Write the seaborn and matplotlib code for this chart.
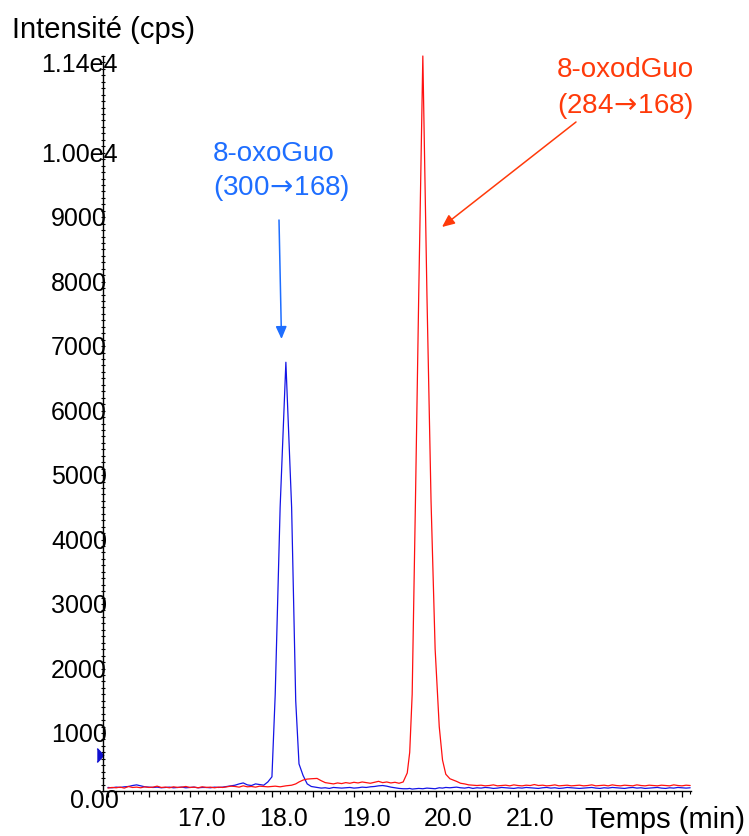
import numpy as np
import pandas as pd
import matplotlib
matplotlib.use("Agg")
import matplotlib.pyplot as plt
import matplotlib.transforms as mtransforms
from matplotlib.ticker import MultipleLocator
import seaborn as sns

# ---------------- data ----------------
time = [16.00, 16.05, 16.10, 16.15, 16.20, 16.25, 16.30, 16.35, 16.40, 16.45,
        16.50, 16.55, 16.60, 16.65, 16.70, 16.75, 16.80, 16.85, 16.90, 16.95,
        17.00, 17.05, 17.10, 17.15, 17.20, 17.25, 17.30, 17.35, 17.40, 17.45,
        17.50, 17.55, 17.60, 17.65, 17.70, 17.75, 17.80, 17.85, 17.90, 17.95,
        18.00, 18.04, 18.10, 18.17, 18.24, 18.29, 18.33, 18.38, 18.43, 18.48,
        18.55, 18.60, 18.65, 18.70, 18.75, 18.80, 18.85, 18.90, 18.95, 19.00,
        19.05, 19.10, 19.15, 19.20, 19.25, 19.30, 19.35, 19.40, 19.45, 19.50,
        19.55, 19.60,
        19.65, 19.68, 19.71, 19.75, 19.79, 19.84, 19.89, 19.94, 19.99, 20.04,
        20.08, 20.12, 20.17,
        20.25, 20.30, 20.35, 20.40, 20.45, 20.50, 20.55, 20.60, 20.65, 20.70,
        20.75, 20.80, 20.85, 20.90, 20.95, 21.00, 21.05, 21.10, 21.15, 21.20,
        21.25, 21.30, 21.35, 21.40, 21.45, 21.50, 21.55, 21.60, 21.65, 21.70,
        21.75, 21.80, 21.85, 21.90, 21.95, 22.00, 22.05, 22.10, 22.15, 22.20,
        22.25, 22.30, 22.35, 22.40, 22.45, 22.50, 22.55, 22.60, 22.65, 22.70,
        22.75, 22.80, 22.85, 22.90, 22.95, 23.00, 23.05, 23.10]

# 8-oxoGuo (300->168), blue trace, cps
oxoguo = [55, 50, 60, 55, 65, 70, 85, 95, 80, 65,
          60, 55, 60, 50, 55, 60, 50, 55, 60, 50,
          55, 60, 50, 55, 55, 50, 60, 55, 60, 70,
          80, 90, 110, 125, 95, 85, 110, 100, 90, 140,
          220, 1500, 4400, 6650, 4400, 1400, 420, 240, 110, 70,
          55, 45, 50, 40, 55, 50, 45, 50, 55, 45,
          50, 60, 55, 65, 70, 80, 85, 75, 60, 50,
          40, 35,
          35, 40, 30, 35, 40, 35, 45, 40, 35, 50,
          45, 55, 50,
          60, 50, 45, 55, 40, 50, 45, 55, 50, 40,
          45, 55, 50, 45, 40, 50, 45, 55, 50, 45,
          40, 50, 55, 45, 50, 40, 45, 55, 50, 45,
          40, 45, 50, 55, 45, 40, 50, 45, 55, 50,
          45, 40, 50, 55, 45, 50, 40, 45, 50, 55,
          45, 40, 50, 45, 55, 50, 45, 50]

# 8-oxodGuo (284->168), red trace, cps
oxodguo = [45, 55, 50, 60, 45, 70, 55, 60, 50, 65,
           55, 60, 75, 55, 60, 50, 65, 55, 60, 70,
           55, 60, 50, 65, 55, 60, 50, 60, 55, 65,
           75, 70, 60, 80, 65, 70, 60, 75, 70, 65,
           70, 75, 65, 80, 90, 110, 140, 170, 185, 190,
           195, 160, 130, 120, 110, 125, 115, 130, 120, 135,
           125, 140, 130, 120, 135, 150, 130, 140, 125, 135,
           120, 140,
           280, 600, 1500, 4500, 7700, 11400, 7700, 4500, 2200, 1000,
           480, 260, 190,
           150, 120, 110, 95, 90, 85, 90, 80, 85, 95,
           80, 85, 90, 80, 95, 85, 80, 90, 85, 100,
           85, 90, 80, 85, 95, 80, 85, 90, 80, 85,
           90, 80, 85, 95, 80, 85, 90, 80, 95, 85,
           80, 90, 85, 80, 95, 85, 80, 90, 85, 80,
           90, 85, 80, 95, 85, 80, 90, 85]

x_major = [16.0, 16.5, 17.0, 17.5, 18.0, 18.5, 19.0, 19.5, 20.0, 20.5,
           21.0, 21.5, 22.0, 22.5, 23.0]
x_labels = ['', '', '17.0', '', '18.0', '', '19.0', '', '20.0', '',
            '21.0', '', '', '', '']
y_major = [0, 1000, 2000, 3000, 4000, 5000, 6000, 7000, 8000, 9000, 10000, 11400]
y_labels = ['0.00', '1000', '2000', '3000', '4000', '5000', '6000', '7000',
            '8000', '9000', '1.00e4', '1.14e4']

marker_level = 560  # small blue level marker on the y axis

label_blue = ["8-oxoGuo", "(300$\\!\\rightarrow\\!$168)"]
label_red = ["8-oxodGuo", "(284$\\!\\rightarrow\\!$168)"]

# ---------------- style ----------------
sns.set_theme(style="white")
plt.rcParams['font.family'] = ['Liberation Sans', 'DejaVu Sans']
plt.rcParams['mathtext.fontset'] = 'dejavusans'

W, H = 749, 836
fig = plt.figure(figsize=(W / 100, H / 100), dpi=100)
ax = fig.add_axes([103 / W, (H - 791) / H, (691 - 103) / W, (791 - 56) / H])

df = pd.DataFrame({"time": time, "oxoguo": oxoguo, "oxodguo": oxodguo})
sns.lineplot(data=df, x="time", y="oxoguo", ax=ax, color="#1414e6", lw=0.9,
             estimator=None, sort=False, clip_on=False)
sns.lineplot(data=df, x="time", y="oxodguo", ax=ax, color="#ff1010", lw=0.9,
             estimator=None, sort=False, clip_on=False)

ax.set_xlim(15.94, 23.11)
ax.set_ylim(0, 11400)
ax.set_xlabel("")
ax.set_ylabel("")

for s in ["top", "right"]:
    ax.spines[s].set_visible(False)
for s in ["left", "bottom"]:
    ax.spines[s].set_color("black")
    ax.spines[s].set_linewidth(1.0)

# x ticks
ax.set_xticks(x_major, x_labels)
ax.xaxis.set_minor_locator(MultipleLocator(0.1))
ax.tick_params(axis="x", which="major", direction="out", length=4.6, width=0.9,
               pad=7.0, labelsize=18, colors="black")
ax.tick_params(axis="x", which="minor", direction="out", length=2.3, width=0.8,
               colors="black")
ax.tick_params(axis="x", which="both", bottom=True)

# y ticks
ax.set_yticks(y_major, y_labels)
ax.yaxis.set_minor_locator(MultipleLocator(100))
ax.tick_params(axis="y", which="major", direction="inout", length=2.6, width=0.8,
               pad=16.0, labelsize=18, colors="black")
ax.tick_params(axis="y", which="minor", direction="inout", length=2.6, width=0.8,
               colors="black")
ax.tick_params(axis="y", which="both", left=True)

# shift tick labels like in the original rendering
dx_off = mtransforms.ScaledTranslation(12 / 100, 0, fig.dpi_scale_trans)
for t in ax.xaxis.get_major_ticks():
    t.label1.set_transform(t.label1.get_transform() + dx_off)
for i, t in enumerate(ax.yaxis.get_major_ticks()):
    t.label1.set_horizontalalignment("center")
    if i == 0:
        off = mtransforms.ScaledTranslation(15 / 100, -8 / 100, fig.dpi_scale_trans)
    else:
        off = mtransforms.ScaledTranslation(0, -6 / 100, fig.dpi_scale_trans)
    t.label1.set_transform(t.label1.get_transform() + off)

# level marker on the y axis
trans = mtransforms.blended_transform_factory(ax.transAxes, ax.transData)
ax.plot([-0.005], [marker_level], marker=[(-0.6, -1.3), (0.6, 0), (-0.6, 1.3)],
        markersize=10, color="#1010d0", transform=trans, clip_on=False, lw=0)

# axis titles
fig.text(12 / W, 1 - 38 / H, "Intensité (cps)", fontsize=21, ha="left",
         va="baseline", color="black")
fig.text(585 / W, 1 - 828 / H, "Temps (min)", fontsize=21, ha="left",
         va="baseline", color="black")

# annotations
blue_txt = "#1e6eff"
red_txt = "#ff3a0a"
fig.text(213 / W, 1 - 161 / H, label_blue[0], color=blue_txt,
         fontsize=20, ha="left", va="baseline")
fig.text(213 / W, 1 - 195 / H, label_blue[1], color=blue_txt,
         fontsize=20, ha="left", va="baseline")
ax.annotate("", xy=(281.5 / W, 1 - 339 / H), xycoords="figure fraction",
            xytext=(279 / W, 1 - 220 / H), textcoords="figure fraction",
            arrowprops=dict(arrowstyle="-|>,head_length=0.5,head_width=0.22",
                            mutation_scale=15, color=blue_txt, lw=1.1,
                            shrinkA=0, shrinkB=0))
fig.text(557 / W, 1 - 77 / H, label_red[0], color=red_txt,
         fontsize=20, ha="left", va="baseline")
fig.text(557 / W, 1 - 113 / H, label_red[1], color=red_txt,
         fontsize=20, ha="left", va="baseline")
ax.annotate("", xy=(442 / W, 1 - 227 / H), xycoords="figure fraction",
            xytext=(576 / W, 1 - 122 / H), textcoords="figure fraction",
            arrowprops=dict(arrowstyle="-|>,head_length=0.5,head_width=0.22",
                            mutation_scale=15, color=red_txt, lw=1.1,
                            shrinkA=0, shrinkB=0))

fig.savefig("out.png", dpi=100)
